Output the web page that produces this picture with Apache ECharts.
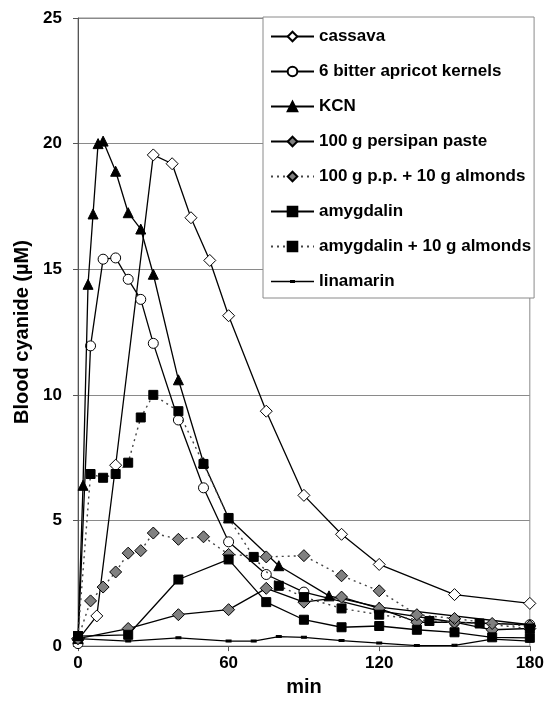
<!DOCTYPE html>
<html>
<head>
<meta charset="utf-8">
<script src="https://cdn.jsdelivr.net/npm/echarts@6/dist/echarts.min.js"></script>
<style>
html,body{margin:0;padding:0;background:#fff;}
#chart{width:547px;height:702px;}
</style>
</head>
<body>
<div id="chart"></div>
<script>
// ---- data (time in min, blood cyanide in µM) ----
var cassavaT = [0, 7.5, 15, 30, 37.5, 45, 52.5, 60, 75, 90, 105, 120, 150, 180];
var cassavaV = [0.25, 1.2, 7.2, 19.55, 19.2, 17.05, 15.35, 13.15, 9.35, 6.0, 4.45, 3.25, 2.05, 1.7];

var apricotT = [0, 5, 10, 15, 20, 25, 30, 40, 50, 60, 75, 90, 120, 150, 180];
var apricotV = [0.1, 11.95, 15.4, 15.45, 14.6, 13.8, 12.05, 9.0, 6.3, 4.15, 2.85, 2.15, 1.4, 0.95, 0.85];

var kcnT = [0, 2, 4, 6, 8, 10, 15, 20, 25, 30, 40, 50, 60, 80, 100, 120, 180];
var kcnV = [0.3, 6.4, 14.4, 17.2, 20.0, 20.1, 18.9, 17.25, 16.6, 14.8, 10.6, 7.3, 5.1, 3.2, 2.0, 1.55, 0.85];

var persipanT = [0, 20, 40, 60, 75, 90, 105, 120, 135, 150, 165, 180];
var persipanV = [0.3, 0.7, 1.25, 1.45, 2.3, 1.75, 1.95, 1.5, 0.95, 0.95, 0.65, 0.7];

var ppAlmT = [0, 5, 10, 15, 20, 25, 30, 40, 50, 60, 75, 90, 105, 120, 135, 150, 165, 180];
var ppAlmV = [0.3, 1.8, 2.35, 2.95, 3.7, 3.8, 4.5, 4.25, 4.35, 3.65, 3.55, 3.6, 2.8, 2.2, 1.25, 1.1, 0.9, 0.8];

var amygT = [0, 20, 40, 60, 75, 90, 105, 120, 135, 150, 165, 180];
var amygV = [0.4, 0.45, 2.65, 3.45, 1.75, 1.05, 0.75, 0.8, 0.65, 0.55, 0.35, 0.33];

var amygAlmT = [0, 5, 10, 15, 20, 25, 30, 40, 50, 60, 70, 80, 90, 105, 120, 140, 160, 180];
var amygAlmV = [0.4, 6.85, 6.7, 6.85, 7.3, 9.1, 10.0, 9.35, 7.25, 5.1, 3.55, 2.4, 1.95, 1.5, 1.25, 1.0, 0.9, 0.7];

var linT = [0, 20, 40, 60, 70, 80, 90, 105, 120, 135, 150, 165, 180];
var linV = [0.3, 0.2, 0.33, 0.2, 0.2, 0.38, 0.35, 0.22, 0.12, 0.02, 0.03, 0.28, 0.2];

var seriesNames = ['cassava', '6 bitter apricot kernels', 'KCN', '100 g persipan paste',
  '100 g p.p. + 10 g almonds', 'amygdalin', 'amygdalin + 10 g almonds', 'linamarin'];

var xTicks = [0, 60, 120, 180];
var yTicks = [0, 5, 10, 15, 20, 25];

function pairs(t, v) { return t.map(function (x, i) { return [x, v[i]]; }); }

var FONT = '"Liberation Sans", Arial, sans-serif';

function mk(name, t, v, symbol, size, fill, dotted, z) {
  return {
    type: 'line', name: name, data: pairs(t, v),
    symbol: symbol, symbolSize: size, showSymbol: true,
    itemStyle: { color: fill, borderColor: '#000', borderWidth: 1, opacity: 1 },
    lineStyle: { color: dotted ? '#444' : '#000', width: dotted ? 1.4 : 1.3, type: dotted ? [2, 4] : 'solid' },
    z: z, animation: false, clip: false
  };
}

// legend icon for linamarin: a line with a tiny dash marker (bbox 43x12)
var linIcon = 'path://M0,0h0.01v0.01h-0.01z M42.99,11.99h0.01v0.01h-0.01z M0,5.35h43v1.3h-43z M19,4.6h5v2.8h-5z';
var legendData = seriesNames.map(function (n, i) {
  return i === 7 ? { name: n, icon: linIcon, itemStyle: { color: '#000', borderWidth: 0 } } : n;
});

var chart = echarts.init(document.getElementById('chart'), null, { renderer: 'canvas' });
chart.setOption({
  backgroundColor: '#fff',
  animation: false,
  grid: { left: 78, right: 16, top: 18, bottom: 48, show: true, borderColor: '#8a8a8a', borderWidth: 1 },
  legend: {
    orient: 'vertical', left: 263, top: 17,
    padding: [11, 3, 8, 7],
    itemWidth: 43, itemHeight: 12, itemGap: 18,
    backgroundColor: '#fff', borderColor: '#8a8a8a', borderWidth: 1,
    textStyle: { fontFamily: FONT, fontWeight: 'bold', fontSize: 17, color: '#000' },
    data: legendData
  },
  xAxis: {
    type: 'value', min: 0, max: 180, interval: 60,
    name: 'min', nameLocation: 'middle', nameGap: 28,
    nameTextStyle: { fontFamily: FONT, fontWeight: 'bold', fontSize: 20, color: '#000' },
    axisLine: { show: true, lineStyle: { color: '#555', width: 1 } },
    axisTick: { show: true, length: 5, lineStyle: { color: '#555' } },
    axisLabel: { fontFamily: FONT, fontWeight: 'bold', fontSize: 17, color: '#000', margin: 9,
      formatter: function (v) { return xTicks.indexOf(v) >= 0 ? String(v) : ''; } },
    splitLine: { show: false }
  },
  yAxis: {
    type: 'value', min: 0, max: 25, interval: 5,
    name: 'Blood cyanide (µM)', nameLocation: 'middle', nameGap: 42, nameRotate: 90,
    nameTextStyle: { fontFamily: FONT, fontWeight: 'bold', fontSize: 20, color: '#000' },
    axisLine: { show: true, lineStyle: { color: '#555', width: 1 } },
    axisTick: { show: true, length: 5, lineStyle: { color: '#555' } },
    axisLabel: { fontFamily: FONT, fontWeight: 'bold', fontSize: 17, color: '#000', margin: 16,
      formatter: function (v) { return yTicks.indexOf(v) >= 0 ? String(v) : ''; } },
    splitLine: { show: true, lineStyle: { color: '#8a8a8a', width: 1 } }
  },
  series: [
    mk(seriesNames[0], cassavaT, cassavaV, 'diamond', 12, '#fff', false, 2),
    mk(seriesNames[1], apricotT, apricotV, 'circle', 10, '#fff', false, 3),
    mk(seriesNames[2], kcnT, kcnV, 'triangle', 10, '#000', false, 4),
    mk(seriesNames[3], persipanT, persipanV, 'diamond', 12, '#808080', false, 5),
    mk(seriesNames[4], ppAlmT, ppAlmV, 'diamond', 12, '#808080', true, 6),
    mk(seriesNames[5], amygT, amygV, 'rect', 9, '#000', false, 7),
    mk(seriesNames[6], amygAlmT, amygAlmV, 'rect', 9, '#000', true, 8),
    mk(seriesNames[7], linT, linV, 'path://M0,0h5v2h-5z', [4, 2], '#000', false, 9)
  ]
});
</script>
</body>
</html>
